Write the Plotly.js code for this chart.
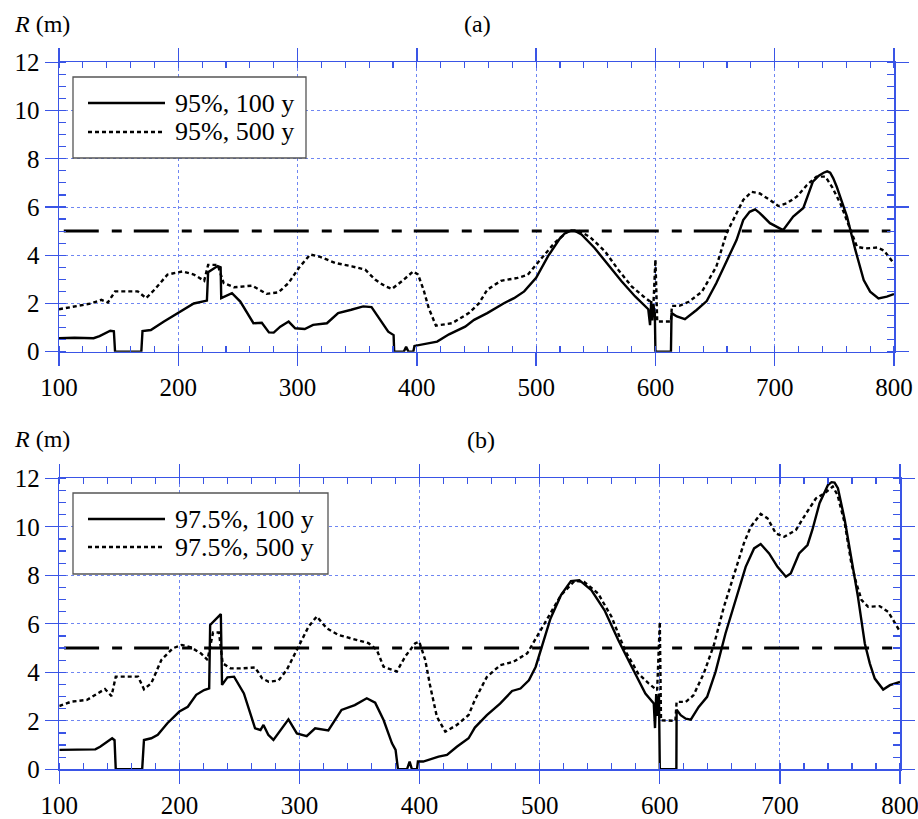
<!DOCTYPE html>
<html>
<head>
<meta charset="utf-8">
<script src="https://cdn.plot.ly/plotly-3.0.1.min.js"></script>
<style>html,body{margin:0;padding:0;background:#fff;}#chart{width:918px;height:819px;}</style>
</head>
<body>
<div id="chart"></div>
<script>
// ---------- DATA ----------
const panelLabels = ["(a)", "(b)"];
const yTitle = "<i>R</i> (m)";
const seriesNamesA = ["95%, 100 y", "95%, 500 y"];
const seriesNamesB = ["97.5%, 100 y", "97.5%, 500 y"];
const thresholdX = [104, 797];
const thresholdR = [5, 5];

// Panel (a): 95%, 100 y
const xA100 = [100,113,129,134,143,146,147,169,170,177,188,200,213,224,225,233,235.5,236,245,252,263,270,276,280,285.5,292.5,298,306,313,324.6,334,345,355,362,369,376,380.5,381,389,391,393,397,398,410,417,427,440.5,448,459,473,481.5,490,500,510,519.7,524,529.5,533,538,549,560.4,571.6,583,594,595.5,596.5,597.3,598.2,599.5,600,613,613.5,618,624.7,634.5,643,651,659.6,668,673.6,679,683.6,687.5,696,707,715.5,724,732,737,741,744,746.5,749,752,760.6,767.6,774.6,780,787,794,800];
const rA100 = [0.56,0.58,0.56,0.65,0.87,0.85,0,0,0.86,0.9,1.25,1.6,2.0,2.12,3.3,3.55,3.5,2.22,2.43,2.08,1.18,1.2,0.8,0.79,1.04,1.25,0.97,0.94,1.11,1.18,1.6,1.74,1.88,1.85,1.32,0.83,0.69,0,0,0.2,0,0,0.24,0.35,0.42,0.72,1.04,1.32,1.6,2.01,2.22,2.5,3.06,3.96,4.68,4.9,5.03,5.0,4.86,4.3,3.61,2.92,2.29,1.76,1.1,2.1,1.3,1.95,1.6,0,0,1.6,1.46,1.35,1.73,2.1,2.84,3.73,4.63,5.46,5.8,5.9,5.75,5.33,5.04,5.6,5.96,7.05,7.3,7.42,7.48,7.42,7.2,6.84,5.6,4.22,2.97,2.49,2.21,2.28,2.39];

// Panel (a): 95%, 500 y
const xA500 = [100,113,127,135.5,141,147,166,173,180,191,203.6,213,221.7,225,233,238,246.7,262,274,284,292.5,301,310.6,319,331.6,345.5,356.7,365,373.5,379,387.4,397,401,405.6,410,416,429.5,443.5,452,459,470.5,484.5,493,500,507,515.4,526.7,535,545,557.6,568.8,580,590,595.5,598,600,601.5,613,613.8,620,628,639,651,659.6,668,673.6,680.6,687.5,696,703,710,718.5,727,735,742.5,748,755,763.5,769,776,786,791.7,797.5,800];
const rA500 = [1.76,1.88,2.0,2.15,2.04,2.5,2.5,2.22,2.57,3.2,3.33,3.2,2.94,3.6,3.6,2.85,2.67,2.74,2.4,2.46,2.85,3.47,4.03,3.93,3.68,3.54,3.4,2.99,2.71,2.6,2.92,3.33,3.2,2.57,1.8,1.08,1.18,1.6,2.0,2.57,2.94,3.06,3.19,3.61,4.03,4.51,5.0,5.03,4.76,4.17,3.4,2.71,2.29,2.08,1.6,3.82,1.25,1.25,1.9,1.9,2.07,2.49,3.52,4.91,5.74,6.29,6.63,6.56,6.29,6.04,6.15,6.43,6.91,7.26,7.26,6.84,6.15,5.05,4.35,4.28,4.32,4.19,3.8,3.65];

// Panel (b): 97.5%, 100 y
const xB100 = [100,113,130,134,144,146,147,169,170.5,176.6,182,190,200,207,214,220.6,224.8,225.6,233,234.5,235.5,240,245.5,253.7,263,267.5,270,274,278.3,284,290.8,297.8,306,313,324,335,346,356,363,370,377,380,382,389.5,391.7,393.6,397.8,398.6,403,415.8,422.8,431,440.8,446,456,467,477,484,491,496.6,501,509,517.7,526,533,543,554,565.4,576.7,588,595,596,597,598,599.3,600,613.8,614,617.4,621.6,625.8,632.4,639.4,646.4,654.7,663,671.5,678.5,684,691,698,705,709,716,723,727,733,740,743,745.5,748.3,754,759.5,765,770.7,774.9,779,786,791.6,800];
const rB100 = [0.8,0.82,0.82,0.93,1.28,1.2,0,0,1.21,1.28,1.42,1.9,2.38,2.58,3.07,3.27,3.34,5.95,6.36,6.4,3.48,3.79,3.82,3.13,1.69,1.62,1.83,1.42,1.21,1.62,2.06,1.48,1.37,1.69,1.6,2.45,2.65,2.93,2.75,2.03,1.07,0.8,0,0,0.32,0,0,0.32,0.32,0.52,0.59,0.93,1.28,1.72,2.23,2.71,3.23,3.33,3.67,4.22,4.91,6.22,7.18,7.76,7.8,7.39,6.56,5.33,4.22,3.12,2.71,1.7,3.1,2.2,3.12,0,0,2.46,2.23,2.09,2.05,2.57,2.99,4.02,5.6,6.98,8.35,9.11,9.29,8.9,8.35,7.94,8.08,8.9,9.25,9.87,10.97,11.72,11.84,11.82,11.59,10.28,8.77,7.11,5.19,4.36,3.74,3.29,3.47,3.6];

// Panel (b): 97.5%, 500 y
const xB500 = [100,110,123,132.5,138,143.5,147,165.6,170.5,176.6,185,194.5,202,209.6,218,223.4,228,233,236,242.7,251,263,268.9,274.4,282.5,289.4,299,307.5,314.4,322.8,332.5,346.4,357.5,364.4,370,381,388,396.4,399.7,404.7,408.9,414.4,421.4,431,440.8,446,456,467,478,489.6,500.8,509,517.7,529,537,548.6,559.8,571,582,590.7,597.8,600,601,613,614,621.6,628,636.6,645,653.4,661.7,670,675.7,684,689.7,696.6,703.6,713.4,721.8,730,737,744,748,754,759.5,763.7,768,773.5,783,790,794.4,800];
const rB500 = [2.61,2.79,2.86,3.13,3.31,3.02,3.82,3.82,3.3,3.55,4.51,4.99,5.13,5.03,4.78,4.51,5.64,5.64,4.37,4.16,4.16,4.2,3.75,3.61,3.66,4.1,5.06,5.88,6.3,5.81,5.54,5.36,5.2,4.92,4.23,4.03,4.65,5.2,5.26,4.51,3.41,2.17,1.55,1.83,2.24,2.86,3.81,4.29,4.43,4.78,5.74,6.43,7.18,7.77,7.73,7.25,6.29,4.91,3.95,3.54,3.26,6.08,2.02,2.0,2.78,2.78,3.05,3.95,5.12,6.7,8.0,9.32,10.0,10.53,10.35,9.73,9.59,9.87,10.55,11.17,11.38,11.66,11.31,10.14,8.49,7.66,6.98,6.7,6.73,6.5,6.15,5.67];

const xTicks = [100,200,300,400,500,600,700,800];
const yTicks = [0,2,4,6,8,10,12];

// ---------- STYLE ----------
const W = 918, H = 819;
const px = x => x / W;
const py = y => 1 - y / H;
const FONT = "Liberation Serif";
const AXBLUE = "#3a55e6";
const GRIDBLUE = "#6f86f2";

const solidLine = {color: "#000", width: 2.4};
const dotLine = {color: "#000", width: 2.4, dash: "4px,3px"};
const threshLine = {color: "#000", width: 3, dash: "35px,13px,10px,12px"};

function traces(xs, ys, xa, ya) {
  return [
    {x: thresholdX, y: thresholdR, xaxis: xa, yaxis: ya, mode: "lines", line: threshLine, hoverinfo: "skip", cliponaxis: false},
    {x: xs[1], y: ys[1], xaxis: xa, yaxis: ya, mode: "lines", line: dotLine, cliponaxis: false},
    {x: xs[0], y: ys[0], xaxis: xa, yaxis: ya, mode: "lines", line: solidLine, cliponaxis: false}
  ];
}

const data = [
  ...traces([xA100, xA500], [rA100, rA500], "x", "y"),
  ...traces([xB100, xB500], [rB100, rB500], "x2", "y2")
];
data[1].name = seriesNamesA[1]; data[2].name = seriesNamesA[0];
data[4].name = seriesNamesB[1]; data[5].name = seriesNamesB[0];

function xAxis(domain, anchor) {
  return {
    domain: domain, anchor: anchor, range: [100, 800], tickvals: xTicks,
    showline: true, linecolor: AXBLUE, linewidth: 1.5, mirror: "allticks",
    ticks: "outside", ticklen: 13, tickwidth: 1.3, tickcolor: AXBLUE,
    showgrid: true, gridcolor: GRIDBLUE, griddash: "dot", gridwidth: 1,
    zeroline: false, ticklabeloverflow: "allow",
    minor: {ticks: "inside", dtick: 20, tick0: 100, ticklen: 6, tickwidth: 1.2, tickcolor: AXBLUE, showgrid: false},
    tickfont: {family: FONT, size: 25, color: "#000"}
  };
}
function yAxis(domain, anchor) {
  return {
    domain: domain, anchor: anchor, range: [0, 12], tickvals: yTicks,
    showline: true, linecolor: AXBLUE, linewidth: 1.5, mirror: "allticks",
    ticks: "outside", ticklen: 13, tickwidth: 1.3, tickcolor: AXBLUE,
    showgrid: true, gridcolor: GRIDBLUE, griddash: "dot", gridwidth: 1,
    zeroline: false, ticklabeloverflow: "allow",
    minor: {ticks: "inside", dtick: 0.5, tick0: 0, ticklen: 7, tickwidth: 1.2, tickcolor: AXBLUE, showgrid: false},
    tickfont: {family: FONT, size: 25, color: "#000"}
  };
}

// Legend boxes drawn as shapes + text annotations
function legendParts(box, names) {
  const shapes = [
    {type: "rect", xref: "paper", yref: "paper", x0: px(box.x0), x1: px(box.x1), y0: py(box.y0), y1: py(box.y1),
     line: {color: "#555", width: 1.3}, fillcolor: "#fff", layer: "above"},
    {type: "line", xref: "paper", yref: "paper", x0: px(box.x0 + 15), x1: px(box.x0 + 92), y0: py(box.r1), y1: py(box.r1),
     line: {color: "#000", width: 2.4}, layer: "above"},
    {type: "line", xref: "paper", yref: "paper", x0: px(box.x0 + 15), x1: px(box.x0 + 92), y0: py(box.r2), y1: py(box.r2),
     line: {color: "#000", width: 2.4, dash: "4px,3px"}, layer: "above"}
  ];
  const ann = [
    {text: names[0], xref: "paper", yref: "paper", x: px(box.x0 + 100), y: py(box.r1), xanchor: "left", yanchor: "middle", showarrow: false, font: {family: FONT, size: 26, color: "#000"}},
    {text: names[1], xref: "paper", yref: "paper", x: px(box.x0 + 100), y: py(box.r2), xanchor: "left", yanchor: "middle", showarrow: false, font: {family: FONT, size: 26, color: "#000"}}
  ];
  return {shapes, ann};
}
const legA = legendParts({x0: 73, x1: 306, y0: 77, y1: 158, r1: 103, r2: 132}, seriesNamesA);
const legB = legendParts({x0: 73, x1: 328, y0: 493, y1: 574, r1: 519, r2: 547}, seriesNamesB);

const titleFont = {family: FONT, size: 24, color: "#000"};
const annotations = [
  {text: yTitle, xref: "paper", yref: "paper", x: px(12), y: py(24), xanchor: "left", yanchor: "middle", showarrow: false, font: titleFont},
  {text: panelLabels[0], xref: "paper", yref: "paper", x: px(477), y: py(24), xanchor: "center", yanchor: "middle", showarrow: false, font: titleFont},
  {text: yTitle, xref: "paper", yref: "paper", x: px(12), y: py(439), xanchor: "left", yanchor: "middle", showarrow: false, font: titleFont},
  {text: panelLabels[1], xref: "paper", yref: "paper", x: px(481), y: py(440), xanchor: "center", yanchor: "middle", showarrow: false, font: titleFont},
  ...legA.ann, ...legB.ann
];

const layout = {
  width: W, height: H,
  margin: {l: 0, r: 0, t: 0, b: 0},
  paper_bgcolor: "#fff", plot_bgcolor: "#fff",
  showlegend: false,
  font: {family: FONT, color: "#000"},
  xaxis: xAxis([px(59), px(894)], "y"),
  yaxis: yAxis([py(351.7), py(62.3)], "x"),
  xaxis2: xAxis([px(59.3), px(900)], "y2"),
  yaxis2: yAxis([py(769.3), py(478.3)], "x2"),
  shapes: [...legA.shapes, ...legB.shapes],
  annotations: annotations
};

Plotly.newPlot("chart", data, layout, {displayModeBar: false, staticPlot: true});
</script>
</body>
</html>
